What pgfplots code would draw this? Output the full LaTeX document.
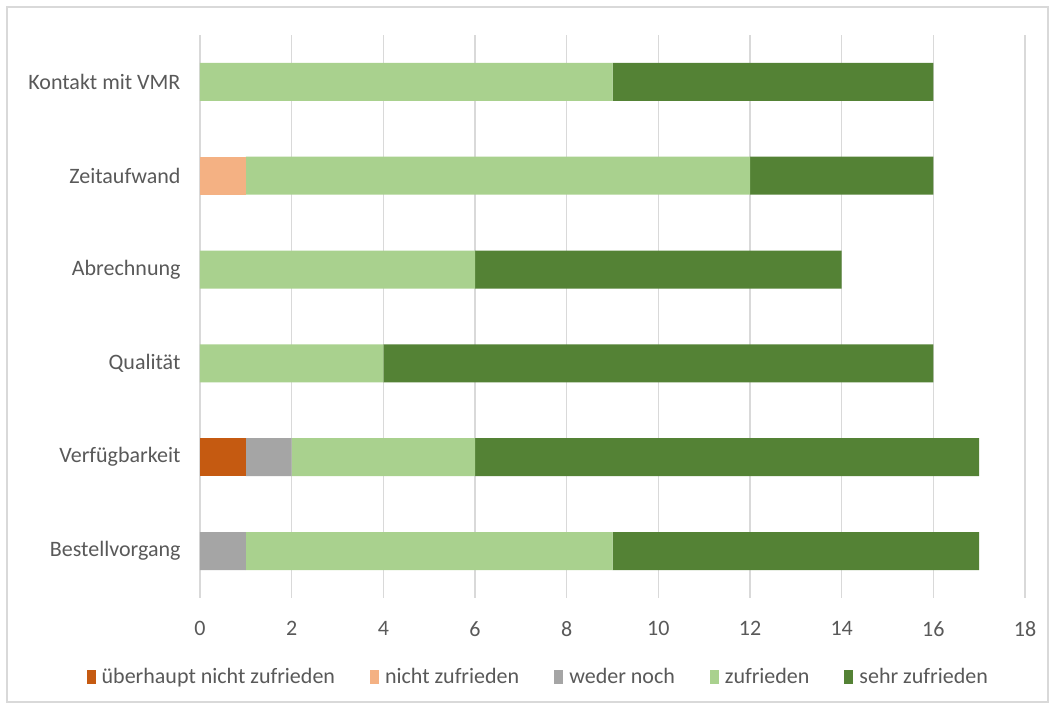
\documentclass[border=0pt]{standalone}
\usepackage{pgfplots}
\pgfplotsset{compat=1.18}
\usepackage{fontspec}
\setmainfont{Carlito}
\definecolor{c1}{HTML}{C55A11}
\definecolor{c2}{HTML}{F4B183}
\definecolor{c3}{HTML}{A5A5A5}
\definecolor{c4}{HTML}{A9D18E}
\definecolor{c5}{HTML}{548235}
\definecolor{txt}{HTML}{595959}
\definecolor{grd}{HTML}{D9D9D9}
\begin{document}
\begin{tikzpicture}[x=1pt,y=1pt]
\fill[white] (0,0) rectangle (1055,709);
\draw[grd, line width=1.2pt] (7,7) rectangle (1048,702);
\begin{axis}[
  at={(200pt,111pt)}, anchor=south west,
  scale only axis, width=825pt, height=563pt,
  xbar stacked, bar width=38pt,
  xmin=0, xmax=18, xtick={0,2,...,18},
  ymin=-0.5, ymax=5.5,
  ytick={0,1,2,3,4,5},
  yticklabels={Bestellvorgang,Verfügbarkeit,Qualität,Abrechnung,Zeitaufwand,Kontakt mit VMR},
  axis line style={draw=none},
  major tick length=0pt,
  xmajorgrids, major grid style={grd, line width=1.2pt},
  ticklabel style={font=\fontsize{22}{24}\selectfont, text=txt},
  /pgf/number format/assume math mode=true,
  xticklabel style={yshift=-20pt},
  yticklabel style={xshift=-16pt},
  legend style={at={(0.41,-0.140)}, anchor=center, draw=none, legend columns=-1,
    font=\fontsize{22}{24}\selectfont, text=txt,
    /tikz/every odd column/.append style={column sep=4pt},
    /tikz/every even column/.append style={column sep=33pt}},
  legend image code/.code={\fill[#1] (0pt,-7pt) rectangle (9pt,7pt);},
]
\addplot[fill=c1, draw=none] coordinates {(0,0) (1,1) (0,2) (0,3) (0,4) (0,5)};
\addplot[fill=c2, draw=none] coordinates {(0,0) (0,1) (0,2) (0,3) (1,4) (0,5)};
\addplot[fill=c3, draw=none] coordinates {(1,0) (1,1) (0,2) (0,3) (0,4) (0,5)};
\addplot[fill=c4, draw=none] coordinates {(8,0) (4,1) (4,2) (6,3) (11,4) (9,5)};
\addplot[fill=c5, draw=none] coordinates {(8,0) (11,1) (12,2) (8,3) (4,4) (7,5)};
\legend{überhaupt nicht zufrieden, nicht zufrieden, weder noch, zufrieden, sehr zufrieden}
\end{axis}
\end{tikzpicture}
\end{document}
